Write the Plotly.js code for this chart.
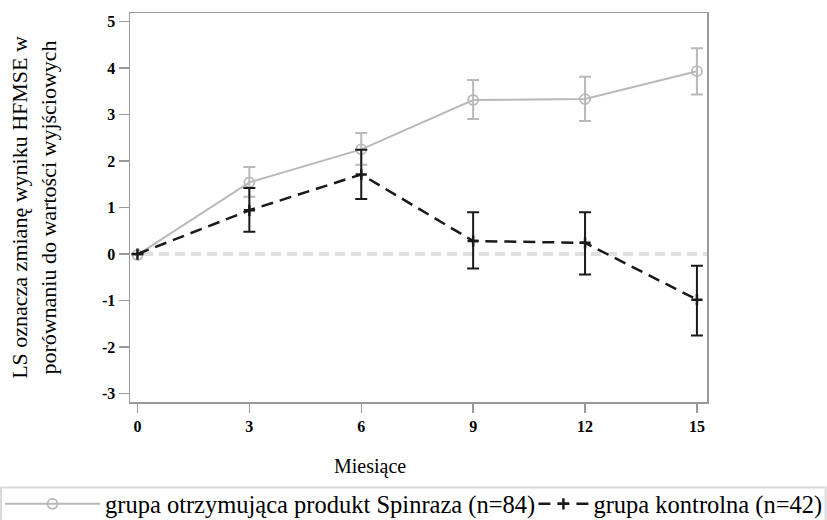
<!DOCTYPE html>
<html>
<head>
<meta charset="utf-8">
<script src="https://cdn.plot.ly/plotly-3.0.1.min.js"></script>
<style>html,body{margin:0;padding:0;background:#fff;}#chart{width:827px;height:520px;}</style>
</head>
<body>
<div id="chart"></div>
<script>
const months = [0, 3, 6, 9, 12, 15];
const spinrazaName = "grupa otrzymująca produkt Spinraza (n=84)";
const spinrazaMean = [-0.02, 1.54, 2.25, 3.31, 3.33, 3.93];
const spinrazaUpper = [-0.02, 1.87, 2.60, 3.74, 3.81, 4.42];
const spinrazaLower = [-0.02, 1.23, 1.92, 2.90, 2.86, 3.43];
const controlName = "grupa kontrolna (n=42)";
const controlMean = [0.0, 0.94, 1.71, 0.28, 0.24, -0.98];
const controlUpper = [0.0, 1.42, 2.24, 0.90, 0.90, -0.25];
const controlLower = [0.0, 0.48, 1.18, -0.31, -0.44, -1.75];
const yTicks = [-3, -2, -1, 0, 1, 2, 3, 4, 5];
const xTicks = [0, 3, 6, 9, 12, 15];
const xTitle = "Miesiące";
const yTitle = "LS oznacza zmianę wyniku HFMSE w<br>porównaniu do wartości wyjściowych";

const serif = "'Liberation Serif', 'Times New Roman', serif";
const gray = "#b9b9b9";
const dark = "#1a1a1a";

function diff(a, b) { return a.map((v, i) => +(v - b[i]).toFixed(3)); }

const traces = [
  {
    x: months, y: spinrazaMean, name: spinrazaName, type: "scatter", mode: "lines+markers",
    legend: "legend",
    line: {color: gray, width: 2},
    marker: {symbol: "circle-open", size: 10, color: gray, line: {width: 1.8, color: gray}},
    error_y: {type: "data", symmetric: false, array: diff(spinrazaUpper, spinrazaMean),
      arrayminus: diff(spinrazaMean, spinrazaLower), color: gray, thickness: 2, width: 6}
  },
  {
    x: months, y: controlMean, name: controlName, type: "scatter", mode: "lines+markers",
    legend: "legend2",
    line: {color: dark, width: 2.5, dash: "12px,7px"},
    marker: {symbol: "cross-thin-open", size: 8, color: dark, line: {width: 2.5, color: dark}},
    error_y: {type: "data", symmetric: false, array: diff(controlUpper, controlMean),
      arrayminus: diff(controlMean, controlLower), color: dark, thickness: 2, width: 6}
  }
];

const legendFont = {family: serif, size: 24.5, color: "#000"};
const layout = {
  width: 827, height: 520,
  margin: {l: 130, r: 120, t: 13, b: 118},
  paper_bgcolor: "#fff", plot_bgcolor: "#fff",
  showlegend: true,
  legend: {
    orientation: "h", xref: "container", yref: "container",
    x: 0.0, xanchor: "left", y: 0.031, yanchor: "middle", itemwidth: 95,
    bgcolor: "rgba(0,0,0,0)", borderwidth: 0, font: legendFont
  },
  legend2: {
    orientation: "h", xref: "container", yref: "container",
    x: 0.645, xanchor: "left", y: 0.031, yanchor: "middle", itemwidth: 50,
    bgcolor: "rgba(0,0,0,0)", borderwidth: 0, font: legendFont
  },
  xaxis: {
    range: [-0.2, 15.27], tickvals: xTicks, ticktext: xTicks.map(String),
    ticks: "outside", ticklen: 9, tickwidth: 1.5, tickcolor: "#999",
    showline: true, linecolor: "#999", linewidth: 1.5, mirror: true,
    showgrid: false, zeroline: false,
    tickfont: {family: serif, size: 16, color: "#000", weight: "bold"}
  },
  yaxis: {
    range: [-3.18, 5.18], tickvals: yTicks, ticktext: yTicks.map(String),
    ticks: "outside", ticklen: 10, tickwidth: 1.5, tickcolor: "#999",
    showline: true, linecolor: "#999", linewidth: 1.5, mirror: true,
    showgrid: false, zeroline: false,
    tickfont: {family: serif, size: 16, color: "#000", weight: "bold"},
    title: {text: yTitle, font: {family: serif, size: 22, color: "#000"}, standoff: 39}
  },
  annotations: [
    {text: xTitle, xref: "paper", yref: "paper", x: 0.416, y: -0.167, xanchor: "center", yanchor: "middle",
     showarrow: false, font: {family: serif, size: 20, color: "#000"}}
  ],
  shapes: [
    {type: "line", xref: "x", yref: "y", x0: 0.15, x1: 15.27, y0: 0, y1: 0, layer: "below",
     line: {color: "#e0e0e0", width: 4, dash: "10px,6px"}},
    {type: "rect", xref: "paper", yref: "paper", x0: -0.2235, x1: 1.2055, y0: -0.2195, y1: -0.31,
     line: {color: "#d9d9d9", width: 2}, fillcolor: "rgba(0,0,0,0)"}
  ]
};

Plotly.newPlot("chart", traces, layout, {displayModeBar: false, staticPlot: true});
</script>
</body>
</html>
